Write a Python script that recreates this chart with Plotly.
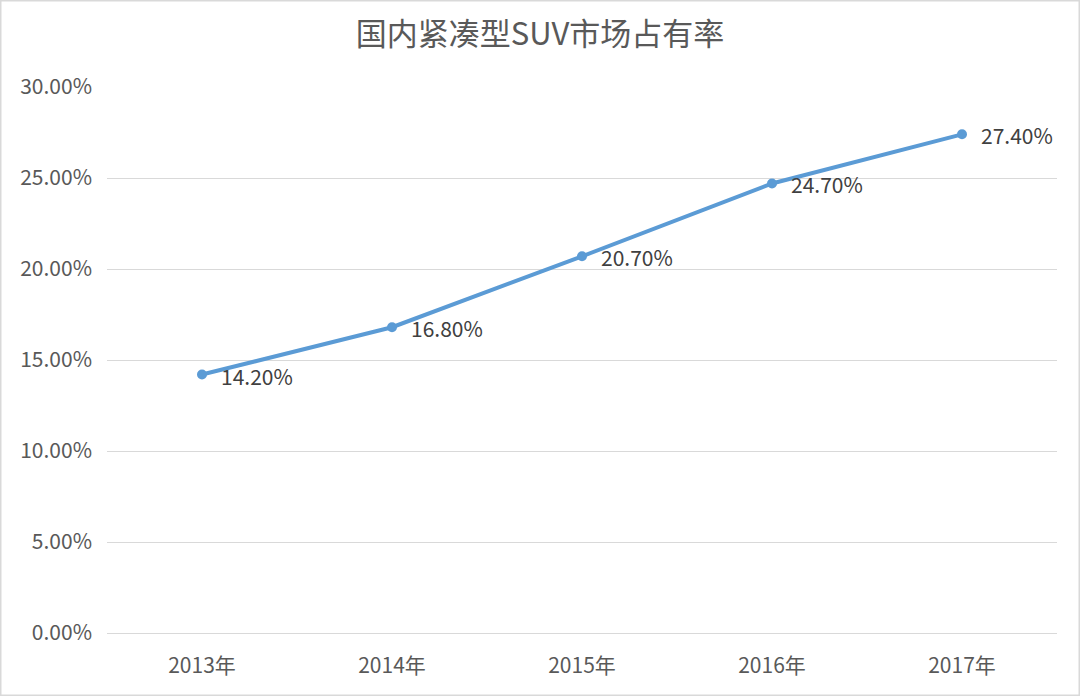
import plotly.graph_objects as go

years = ["2013年", "2014年", "2015年", "2016年", "2017年"]
share = [0.142, 0.168, 0.207, 0.247, 0.274]
y_ticks = [0, 0.05, 0.10, 0.15, 0.20, 0.25, 0.30]
y_tick_labels = ["0.00%", "5.00%", "10.00%", "15.00%", "20.00%", "25.00%", "30.00%"]
title_text = "国内紧凑型SUV市场占有率"

W, H = 1080, 696
L, R, T, B = 107, 23, 87, 63
pw, ph = W - L - R, H - T - B

font_family = "Noto Sans CJK SC, Noto Sans, sans-serif"
text_color = "#595959"
line_color = "#5B9BD5"
grid_color = "#D9D9D9"

fig = go.Figure()
fig.add_trace(go.Scatter(
    x=years, y=share,
    mode="lines+markers",
    line=dict(color=line_color, width=4),
    marker=dict(color=line_color, size=10),
    hoverinfo="skip",
))

annotations = [
    dict(x=yr, y=v, xref="x", yref="y", text=f"{v*100:.2f}%", showarrow=False,
         xanchor="left", yanchor="middle", xshift=17, yshift=-1,
         font=dict(family=font_family, size=21, color="#404040"))
    for yr, v in zip(years, share)
]

fig.update_layout(
    width=W, height=H,
    margin=dict(l=L, r=R, t=T, b=B),
    paper_bgcolor="white", plot_bgcolor="white",
    showlegend=False,
    title=dict(text=title_text, x=0.5, xanchor="center", y=1 - 34 / H, yanchor="middle",
               font=dict(family=font_family, size=31, color=text_color)),
    font=dict(family=font_family, color=text_color),
    xaxis=dict(
        type="category", showgrid=False, showline=True, linecolor=grid_color, linewidth=1,
        tickfont=dict(size=21, color=text_color), ticks="", ticklabelstandoff=14,
        range=[-0.5, len(years) - 0.5], fixedrange=True,
    ),
    yaxis=dict(
        range=[0, 0.30], tickvals=y_ticks, ticktext=y_tick_labels,
        showgrid=True, gridcolor=grid_color, gridwidth=1, zeroline=False, showline=False,
        tickfont=dict(size=21, color=text_color), ticks="", ticklabelstandoff=14,
        fixedrange=True,
    ),
    annotations=annotations,
    shapes=[dict(
        type="rect", xref="paper", yref="paper",
        x0=(0.75 - L) / pw, x1=(W - 0.75 - L) / pw,
        y0=-(H - 0.75 - T - ph) / ph, y1=(H - 0.75 - B) / ph,
        line=dict(color=grid_color, width=1.5), fillcolor="rgba(0,0,0,0)", layer="below",
    )],
)

fig.write_html("out.html", config={"displayModeBar": False},
               post_script="document.body.style.margin='0';document.body.style.overflow='hidden';")
